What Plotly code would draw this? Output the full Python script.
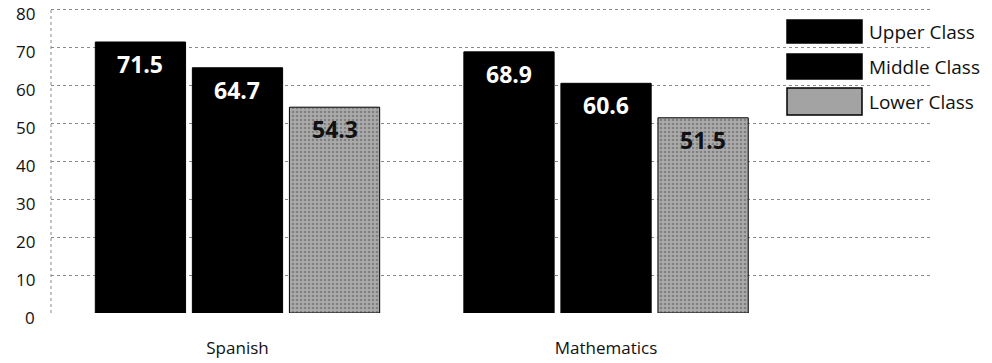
import plotly.graph_objects as go

subjects = ['Spanish', 'Mathematics']
classes = ['Upper Class', 'Middle Class', 'Lower Class']
upper = [71.5, 68.9]
middle = [64.7, 60.6]
lower = [54.3, 51.5]
y_ticks = [0, 10, 20, 30, 40, 50, 60, 70, 80]

series = [upper, middle, lower]
fills = ['#000000', '#000000', '#a3a3a3']
label_colors = ['white', 'white', '#111111']
font = 'Open Sans, Noto Sans, sans-serif'

bargap = 0.21
bargroupgap = 0.07

fig = go.Figure()
for name, vals, col in zip(classes, series, fills):
    marker = dict(color=col, line=dict(color='#000000', width=1))
    if name == 'Lower Class':
        marker['pattern'] = dict(shape='.', fgcolor='#555555', bgcolor='#ababab',
                                 size=4, solidity=0.35)
    fig.add_trace(go.Bar(x=subjects, y=vals, name=name, marker=marker,
                         showlegend=False, hoverinfo='x+y+name'))

# value labels near the top of each bar
slot = (1 - bargap) / len(classes)
for j, (vals, lc) in enumerate(zip(series, label_colors)):
    for i, v in enumerate(vals):
        fig.add_annotation(x=i + (j - 1) * slot, y=v, text=f'{v:.1f}',
                           showarrow=False, yanchor='top', yshift=-4,
                           font=dict(family=font, size=23, color=lc, weight='bold'))

# y tick labels sit a little below their grid lines, as in the print
for t in y_ticks:
    fig.add_annotation(xref='paper', x=0, y=t, text=str(t), showarrow=False,
                       xanchor='right', yanchor='middle', xshift=-14, yshift=-4,
                       font=dict(family=font, size=17, color='#111111'))

# hand-made legend with big swatches (positions in pixels -> paper)
def px_x(p):
    return (p - 51) / 879

def px_y(p):
    return (313 - p) / 307

legend_px = [(20, 43), (54, 79), (88, 115)]
for name, col, (top, bot) in zip(classes, fills, legend_px):
    fig.add_shape(type='rect', xref='paper', yref='paper', x0=px_x(787), x1=px_x(862),
                  y0=px_y(bot), y1=px_y(top), fillcolor=col,
                  line=dict(color='#000000', width=1.5))
    fig.add_annotation(xref='paper', yref='paper', x=px_x(867), y=px_y((top + bot) / 2),
                       text=name, showarrow=False, xanchor='left', yanchor='middle',
                       font=dict(family=font, size=19, color='#111111'))

# dotted left edge
fig.add_shape(type='line', xref='paper', yref='paper', x0=0, x1=0, y0=0, y1=px_y(10),
              line=dict(color='#888888', width=1, dash='dot'))

fig.update_layout(
    width=992, height=363,
    margin=dict(l=51, r=62, t=6, b=50),
    paper_bgcolor='white', plot_bgcolor='white',
    barmode='group', bargap=bargap, bargroupgap=bargroupgap,
    font=dict(family=font, size=16, color='#111111'),
    xaxis=dict(range=[-0.506, 1.879], showgrid=False, zeroline=False, automargin=False,
               ticks='outside', ticklen=20, tickcolor='rgba(0,0,0,0)',
               tickfont=dict(size=17)),
    yaxis=dict(range=[0, 81], tickvals=y_ticks, showgrid=True, automargin=False,
               gridcolor='#8a8a8a', griddash='dot', gridwidth=1, zeroline=False,
               showticklabels=False),
)

fig.write_html('out.html', config={'displayModeBar': False},
               post_script="document.body.style.margin='0';")
